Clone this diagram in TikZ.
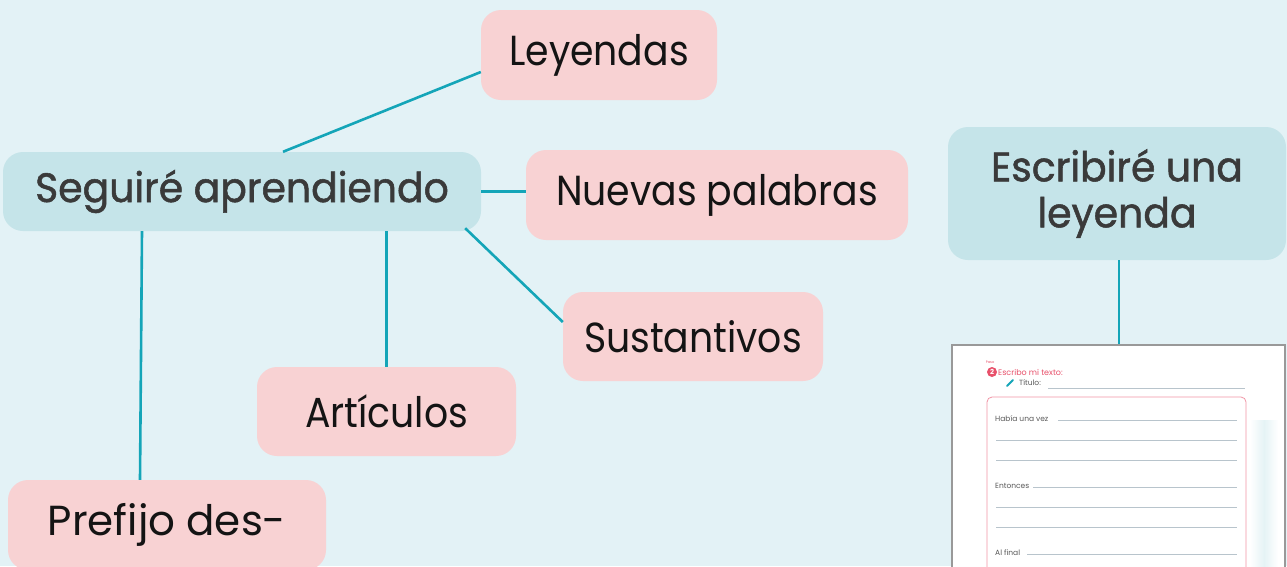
\documentclass[tikz,border=0pt]{standalone}
\usepackage{fontspec}
\setmainfont{Poppins}
\newfontfamily\pinkfont{Poppins}[FakeStretch=0.9]
\newfontfamily\bluefont{Poppins}[FakeBold=1.3,FakeStretch=0.96]
\usetikzlibrary{calc}
\definecolor{bg}{HTML}{E3F2F6}
\definecolor{pinkf}{HTML}{F8D2D3}
\definecolor{bluef}{HTML}{C5E4E9}
\definecolor{teal}{HTML}{14A5B8}
\definecolor{txtg}{HTML}{3A3A3A}
\definecolor{wsred}{HTML}{E8506A}
\definecolor{wsline}{HTML}{B8C4CC}
\tikzset{
  box/.style={rounded corners=20pt, inner sep=0pt},
  pinkbox/.style={box, fill=pinkf, text=black!92, font=\pinkfont\fontsize{42}{46}\selectfont},
  bluebox/.style={box, fill=bluef, text=txtg, align=center, font=\bluefont\fontsize{41}{46}\selectfont},
  link/.style={draw=teal, line width=2.6pt},
  wstext/.style={font=\fontsize{7.5}{8}\selectfont, text=black!65, inner sep=0pt, anchor=base west},
  wsrule/.style={draw=wsline, line width=0.6pt},
}
\begin{document}
\begin{tikzpicture}[x=1pt,y=-1pt]
\useasboundingbox (0,0) rectangle (1287,566);
\clip (0,0) rectangle (1287,566);
\fill[bg] (0,0) rectangle (1287,566);
% nodes
\node[bluebox, minimum width=478pt, minimum height=79pt] (seg) at (242,191.5) {Seguiré aprendiendo};
\node[pinkbox, minimum width=236pt, minimum height=90pt] (ley) at (599,55) {Leyendas};
\node[pinkbox, minimum width=382pt, minimum height=90pt] (nue) at (717,195) {Nuevas palabras};
\node[pinkbox, minimum width=260pt, minimum height=89pt] (sus) at (693,336.5) {Sustantivos};
\node[pinkbox, minimum width=259pt, minimum height=89pt] (art) at (386.5,411.5) {Artículos};
\node[pinkbox, minimum width=318pt, minimum height=90pt, font=\fontsize{42}{46}\selectfont] (pre) at (167,525) {Prefijo des-};
\node[bluebox, minimum width=338pt, minimum height=133pt] (esc) at (1117,193.5) {Escribiré una\\leyenda};
% worksheet
\node[draw=black!40, line width=1.2pt, fill=white, minimum width=333pt, minimum height=240pt, inner sep=0pt] (ws) at (1118.5,465) {};
\fill[left color=white, right color=bluef!45] (1250,420) rectangle (1264,566);
\fill[left color=bluef!45, right color=white] (1264,420) rectangle (1278,566);
\node[font=\fontsize{3.5}{4}\selectfont, text=wsred, inner sep=0pt] (paso) at (990,362) {Paso};
\node[circle, fill=wsred, minimum size=10pt, inner sep=0pt, text=white, font=\fontsize{7}{7}\bfseries\selectfont] (two) at (992,372) {2};
\node[font=\fontsize{8}{8}\selectfont, text=wsred, inner sep=0pt, anchor=west] (esm) at (998,372) {Escribo mi texto:};
\draw[teal, line width=2pt, line cap=round] (1007,386) -- (1013,380);
\node[wstext, anchor=west] (tit) at (1019,383) {Título:};
\draw[wsrule] (1048,388) -- (1245,388);
\draw[draw=wsred!60, line width=0.8pt, fill=white, rounded corners=5pt] (987,397) rectangle (1246,580);
\node[wstext] (hab) at (995,421) {Había una vez};
\draw[wsrule] (1058,420) -- (1237,420);
\draw[wsrule] (996,440) -- (1237,440);
\draw[wsrule] (996,460) -- (1237,460);
\node[wstext] (ent) at (995,488) {Entonces};
\draw[wsrule] (1033,487) -- (1237,487);
\draw[wsrule] (996,507) -- (1237,507);
\draw[wsrule] (996,527) -- (1237,527);
\node[wstext] (alf) at (995,555) {Al final};
\draw[wsrule] (1027,554) -- (1237,554);
% connectors
\draw[link] ([xshift=41pt]seg.north) -- ([yshift=-17pt]ley.west);
\draw[link] (seg.east) -- (seg.east -| nue.west);
\draw[link] ([xshift=-16pt,yshift=3pt]seg.south east) -- ([yshift=14.5pt]sus.west);
\draw[link] (art.north) -- (art.north |- seg.south);
\draw[link] ([xshift=-27pt]pre.north) -- ([xshift=-100pt]seg.south);
\draw[link] ([xshift=2pt]esc.south) -- ([xshift=2pt]esc.south |- ws.north);
\end{tikzpicture}
\end{document}
